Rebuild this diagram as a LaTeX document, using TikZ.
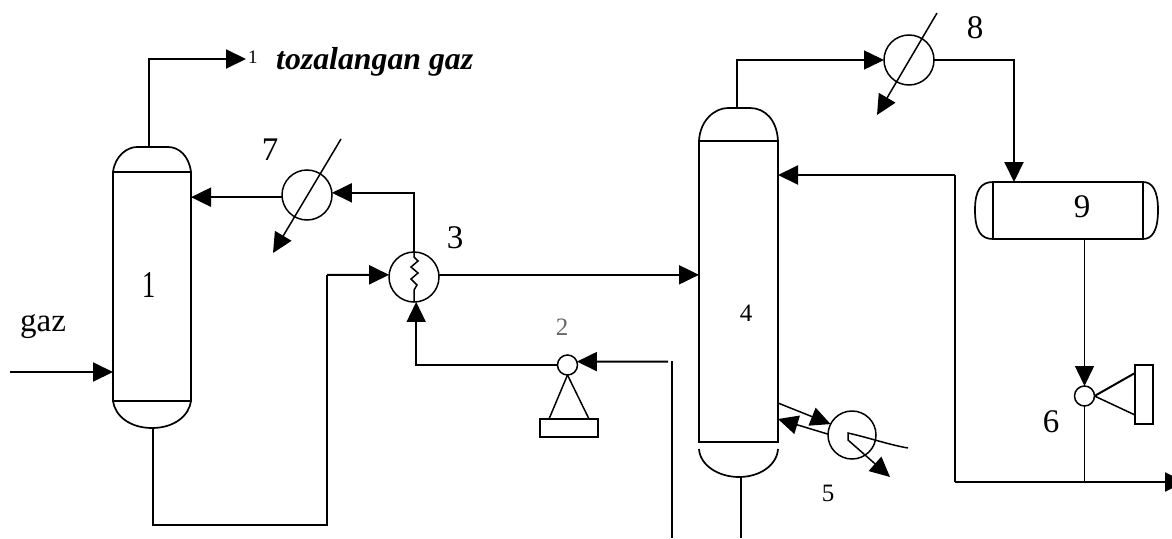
\documentclass[tikz,border=0pt]{standalone}
\usepackage{fontspec}
\setmainfont{Liberation Serif}
\usetikzlibrary{arrows.meta,calc}
\tikzset{
  pipe/.style={line width=2pt,line join=miter},
  flow/.style={pipe,-{Triangle[length=20pt,width=19pt]}},
  thin pipe/.style={line width=1.5pt},
  thin flow/.style={thin pipe,-{Triangle[length=20pt,width=19pt]}},
  vessel/.style={draw,line width=1.7pt,inner sep=0pt,outer sep=0pt},
  round vessel/.style={draw,circle,line width=1.5pt,inner sep=0pt,outer sep=0pt},
  shell/.style={line width=1.7pt},
  lab/.style={inner sep=0pt,font=\fontsize{33}{33}\selectfont},
  small lab/.style={inner sep=0pt,font=\fontsize{25}{25}\selectfont},
}
\begin{document}
\begin{tikzpicture}[x=1pt,y=-1pt]
\useasboundingbox (0,0) rectangle (1172,538);
\fill[white] (0,0) rectangle (1172,538);
% columns
\node[vessel,minimum width=78pt,minimum height=229pt] (col1) at (152,286.5) {};
\node[vessel,minimum width=79pt,minimum height=301pt] (col4) at (738.5,291.5) {};
\draw[shell] (col1.north west) .. controls (115,156) and (127,147) .. (137,147) -- (168,147) .. controls (179,147) and (189,156) .. (col1.north east);
\draw[shell] (col1.south west) .. controls (115,416) and (130,428) .. (152,428) .. controls (174,428) and (189,416) .. (col1.south east);
\draw[shell] (col4.north west) .. controls (700,120) and (715,108) .. (728,108) -- (750,108) .. controls (765,108) and (777,120) .. (col4.north east);
\draw[shell] (699,449) .. controls (700,465) and (718,477) .. (739,477) .. controls (760,477) and (777,465) .. (778,449);
\coordinate (dome4b) at (741,477);
% vessel 9
\node[draw,line width=1.3pt,inner sep=0pt,outer sep=0pt,minimum width=150pt,minimum height=57pt] (v9) at (1068,210.5) {};
\draw[shell] (v9.north west) -- (v9.north east) (v9.south west) -- (v9.south east);
\draw[shell] (v9.north west) .. controls (981,182) and (975,190) .. (975,210) .. controls (975,231) and (981,239) .. (v9.south west);
\draw[shell] (v9.north east) .. controls (1152,182) and (1158,190) .. (1158,210) .. controls (1158,231) and (1152,239) .. (v9.south east);
% heat exchangers
\node[round vessel,minimum size=50pt] (h7) at (307,195) {};
\node[round vessel,minimum size=50pt] (h3) at (414,277) {};
\node[round vessel,minimum size=50pt] (h8) at (909,60) {};
\node[round vessel,minimum size=48pt] (h5) at (852,435) {};
% pumps
\node[round vessel,minimum size=20pt] (p2) at (567.5,365) {};
\node[round vessel,minimum size=20pt] (p6) at (1084.5,396) {};
\node[vessel,minimum width=58pt,minimum height=18pt] (b2) at (569,428) {};
\draw[thin pipe] (p2.south) -- (549,419);
\draw[thin pipe] (p2.south) -- (589,419);
\draw[pipe] (p6.east) -- (1135,373);
\draw[thin pipe] (p6.east) -- (1135,415);
\node[vessel,minimum width=18pt,minimum height=59pt] (b6) at (1144,394.5) {};
% free ends
\coordinate (gazin) at (10,372);
\coordinate (cleanend) at (246,59);
\coordinate (k7a) at (341,139);
\coordinate (k7b) at (273,253);
\coordinate (k8a) at (937,13);
\coordinate (k8b) at (877,115);
\coordinate (feed2) at (668,361.6);
\coordinate (lowA) at (672,361);
\coordinate (lowB) at (672,538);
\coordinate (bot4) at (741,538);
\coordinate (prod) at (1185,482);
% connectors
\draw[flow] (gazin) -- (col1.west |- gazin);
\draw[flow] (149,147) -- (149,59) -- (cleanend);
\draw[thin flow] (k7a) -- (k7b);
\draw[thin flow] (k8a) -- (k8b);
\draw[flow] (h3.north) -- (h3.north |- h7.5) -- (h7.5);
\draw[flow] (h7.185) -- (col1.east |- h7.185);
\draw[pipe] (153,428) -- (153,525) -- (327,525) -- (327,274.8);
\draw[flow] (327,274.8) -- (h3.175);
\draw[flow] (h3.5) -- (col4.west |- h3.5);
\draw[thin flow] (p2.west) -- (p2.west -| h3.275) -- (h3.275);
\draw[flow] (feed2) -- (p2.20);
\draw[thin pipe] (lowA) -- (lowB);
\draw[thin pipe] (dome4b) -- (bot4);
\draw[thin flow] (737,108) -- (737,60) -- (h8.west);
\draw[flow] (h8.east) -- (1014,60) -- (v9.north -| 1014,0);
\draw[thin flow] (v9.south -| p6.north) -- (p6.north);
\draw[thin pipe] (p6.south) -- (p6.south |- prod);
\draw[flow] (955,482) -- (prod);
\draw[thin pipe] (955,482) -- (955,175);
\draw[flow] (955,175) -- (col4.east |- 955,175);
\draw[thin flow] (778,403) -- (h5.153);
\draw[thin flow] (h5.178) -- (778,419);
% heat coil in 3
\draw[line width=1.5pt] (h3.north) -- (414,257) -- (418,261) -- (411,267) -- (418,273) -- (411,279) -- (417,285) -- (414,290) -- (h3.south);
% reboiler coil in 5
\coordinate (r5a) at (908,448);
\coordinate (r5b) at (890,477);
\draw[thin flow] (r5a) .. controls (890,445) and (870,438) .. (848,433) -- (848,440) -- (r5b);
% labels
\node[lab,xscale=.8,yscale=1.15] (n1) at (149,285) {1};
\node[lab] (n7) at (270,150) {7};
\node[lab] (n3) at (455,238) {3};
\node[lab] (n8) at (975,28) {8};
\node[lab] (n9) at (1082,207) {9};
\node[lab] (n6) at (1051,422) {6};
\node[small lab] (n4) at (746,313) {4};
\node[small lab] (n5) at (828,493) {5};
\node[small lab,text=black!60] (n2) at (562,327) {2};
\node[inner sep=0pt,anchor=base west,font=\fontsize{19}{19}\selectfont] (n0) at (248,63) {1};
\node[inner sep=0pt,anchor=base west,font=\fontsize{31.8}{32}\selectfont\bfseries\itshape] (clean) at (276,69) {tozalangan gaz};
\node[inner sep=0pt,anchor=base west,font=\fontsize{33}{33}\selectfont] (gaz) at (20,331) {gaz};
\end{tikzpicture}
\end{document}
